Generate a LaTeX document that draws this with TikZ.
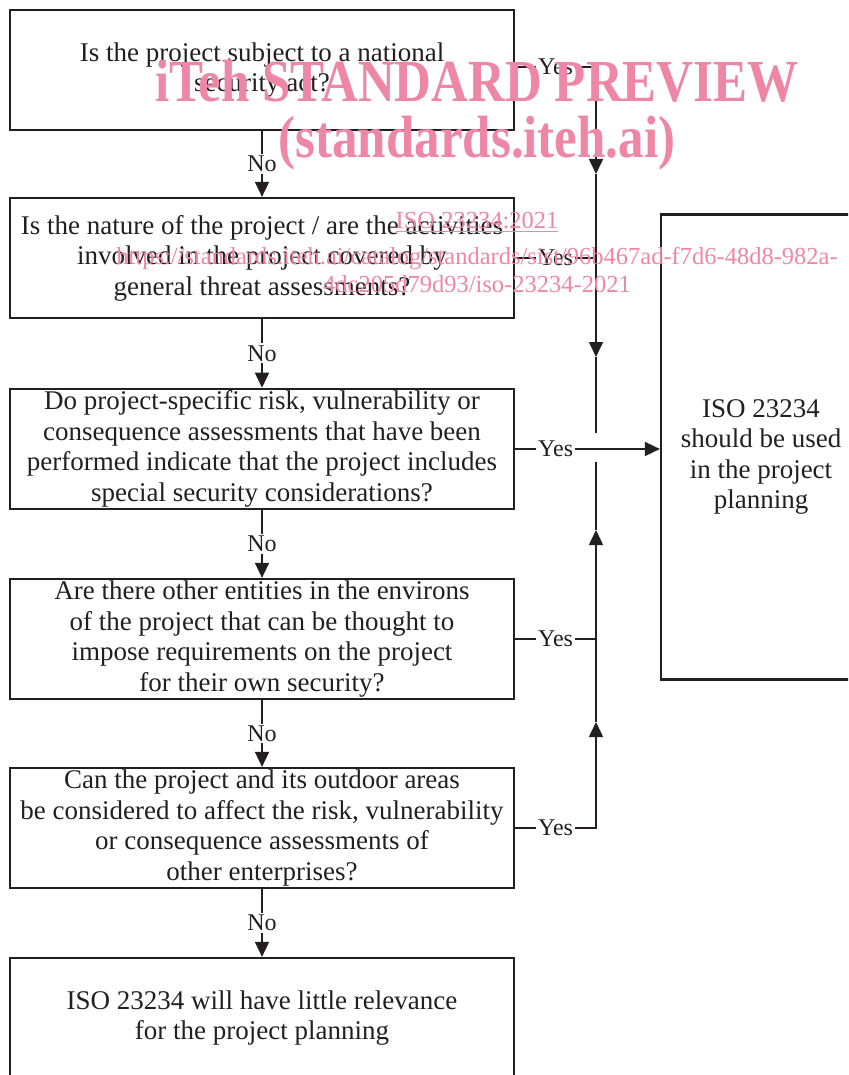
\documentclass[tikz,border=0pt]{standalone}
\usepackage{fontspec}
\setmainfont{Liberation Serif}
\usetikzlibrary{arrows.meta,positioning}
\definecolor{ink}{RGB}{35,31,32}
\definecolor{wmpink}{RGB}{238,134,166}
\begin{document}
\begin{tikzpicture}[x=1pt,y=-1pt,
	every node/.style={font=\fontsize{27}{30.5}\selectfont,text=ink},
	question/.style={draw=ink,line width=2.2pt,minimum width=504pt,minimum height=120pt,align=center,inner sep=2pt},
	answer/.style={fill=white,inner sep=2pt,font=\fontsize{24}{28}\selectfont},
	flow/.style={draw=ink,line width=1.6pt},
	tip/.style={-{Triangle[length=15pt,width=14pt]}},
	wmbig/.style={text=wmpink,font=\fontsize{51}{51}\bfseries\selectfont,anchor=base},
	wmsmall/.style={text=wmpink,font=\fontsize{24.5}{26}\selectfont,anchor=base}]
\useasboundingbox (0,0) rectangle (848,1075);
\clip (0,0) rectangle (848,1075);
% questions
\node[question] (q1) at (262,70) {Is the project subject to a national\\security act?};
\node[question] (q2) at (262,258) {Is the nature of the project / are the activities\\involved in the project covered by\\general threat assessments?};
\node[question] (q3) at (262,449) {Do project-specific risk, vulnerability or\\consequence assessments that have been\\performed indicate that the project includes\\special security considerations?};
\node[question] (q4) at (262,639) {Are there other entities in the environs\\of the project that can be thought to\\impose requirements on the project\\for their own security?};
\node[question] (q5) at (262,828) {Can the project and its outdoor areas\\be considered to affect the risk, vulnerability\\or consequence assessments of\\other enterprises?};
% results
\node[question] (none) at (262,1018) {ISO 23234 will have little relevance\\for the project planning};
\node[question,minimum width=200pt,minimum height=465pt] (use) at (761,447) {};
\node[align=center] (usetext) at (761,457) {ISO 23234\\should be used\\in the project\\planning};
% rail
\coordinate (rail) at (596,0);
\coordinate (down1) at (596,174);
\coordinate (down2) at (596,357);
\coordinate (railtop) at (596,433);
\coordinate (railbot) at (596,462);
\coordinate (up1) at (596,530);
\coordinate (up2) at (596,722);
% no branch
\foreach \a/\b in {q1/q2,q2/q3,q3/q4,q4/q5,q5/none}
	\draw[flow,tip] (\a) -- node[answer]{No} (\b);
% yes branch
\draw[flow,tip] ([yshift=3pt]q1.east) -- node[answer]{Yes} ([yshift=3pt]q1.east -| rail) -- (down1);
\draw[flow,tip] (down1) -- (down2);
\draw[flow] (down2) -- (railtop);
\draw[flow] (q2.east) -- node[answer]{Yes} (q2.east -| rail);
\draw[flow,tip] (q3.east) -- node[answer,pos=0.28]{Yes} (q3.east -| use.west);
\draw[flow] (q4.east) -- node[answer]{Yes} (q4.east -| rail);
\draw[flow,tip] (q5.east) -- node[answer]{Yes} (q5.east -| rail) -- (up2);
\draw[flow,tip] (up2) -- (up1);
\draw[flow] (up1) -- (railbot);
% watermark
\node[wmbig] (wm1) at (477,102) {\scalebox{1}[1.17]{iTeh STANDARD PREVIEW}};
\node[wmbig] (wm2) at (477,158) {\scalebox{1}[1.17]{(standards.iteh.ai)}};
\node[wmsmall] (wm3) at (477,229) {\underline{ISO 23234:2021}};
\node[wmsmall] (wm4) at (477,264) {https://standards.iteh.ai/catalog/standards/sist/96b467ad-f7d6-48d8-982a-};
\node[wmsmall] (wm5) at (477,292) {4dc205d79d93/iso-23234-2021};
\end{tikzpicture}
\end{document}
